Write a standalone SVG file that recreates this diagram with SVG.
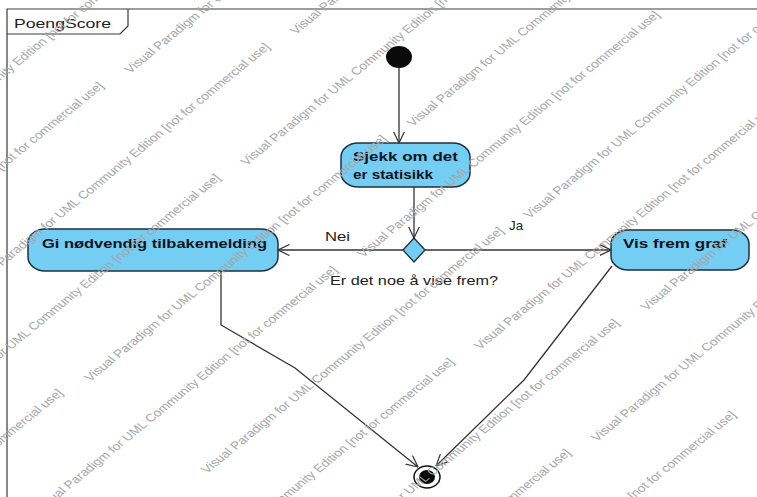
<svg xmlns="http://www.w3.org/2000/svg" width="757" height="497" viewBox="0 0 757 497">
  <style>
    .frame { fill: none; stroke: #3a3a3a; stroke-width: 1.2; }
    .action { fill: #74cdf3; stroke: #1f2f3c; stroke-width: 1.5; }
    .atext { font-family: "Liberation Sans", Arial, sans-serif; font-weight: bold; font-size: 13px; fill: #10141c; }
    .label { font-family: "Liberation Sans", Arial, sans-serif; font-size: 13px; fill: #222; }
    .flow { fill: none; stroke: #333; stroke-width: 1.3; }
    .wm { font-family: "Liberation Sans", Arial, sans-serif; font-size: 11px; fill: #a6a6a6; }
  </style>
  <defs>
    <marker id="open" viewBox="0 0 12 12" refX="11.5" refY="6" markerWidth="12" markerHeight="12" markerUnits="userSpaceOnUse" orient="auto">
      <path d="M0,0.5 L11.5,6 L0,11.5" fill="none" stroke="#333" stroke-width="1.2"/>
    </marker>
    <text id="wmText" class="wm">Visual Paradigm for UML Community Edition [not for commercial use]</text>
  </defs>
  <rect width="757" height="497" fill="#fff"/>

  <!-- activity frame with name tab -->
  <g id="frame">
    <path class="frame" d="M7,497 V9 H757"/>
    <path class="frame" d="M7,34 H120 L128,26 V9"/>
    <text class="label" x="14" y="28" font-size="14" textLength="97" lengthAdjust="spacingAndGlyphs">PoengScore</text>
  </g>

  <!-- control flows -->
  <g id="connectors">
    <line class="flow" x1="399" y1="68" x2="399" y2="143" marker-end="url(#open)"/>
    <line class="flow" x1="414" y1="187" x2="414" y2="238" marker-end="url(#open)"/>
    <line class="flow" x1="403" y1="250" x2="278" y2="250" marker-end="url(#open)"/>
    <line class="flow" x1="425" y1="250" x2="611" y2="250" marker-end="url(#open)"/>
    <polyline class="flow" points="221,271 221,325 295,368 418,467" marker-end="url(#open)"/>
    <polyline class="flow" points="612,266 524,380 436,466" marker-end="url(#open)"/>
    <text class="label" x="325" y="241" textLength="25" lengthAdjust="spacingAndGlyphs">Nei</text>
    <text class="label" x="509" y="230" textLength="14" lengthAdjust="spacingAndGlyphs">Ja</text>
  </g>

  <g id="initial">
    <ellipse cx="399" cy="57" rx="13" ry="11" fill="#0a0a0a"/>
  </g>

  <g id="sjekk">
    <rect class="action" x="341" y="143" width="129" height="44" rx="17" ry="14"/>
    <text class="atext" x="353" y="161" textLength="105" lengthAdjust="spacingAndGlyphs">Sjekk om det</text>
    <text class="atext" x="353" y="179" textLength="80" lengthAdjust="spacingAndGlyphs">er statisikk</text>
  </g>

  <g id="decision">
    <polygon points="414,238 425,250 414,262 403,250" fill="#74cdf3" stroke="#1f2f3c" stroke-width="1.3"/>
    <text class="label" x="330" y="285" textLength="168" lengthAdjust="spacingAndGlyphs">Er det noe å vise frem?</text>
  </g>

  <g id="tilbakemelding">
    <rect class="action" x="28" y="229" width="250" height="42" rx="17" ry="14"/>
    <text class="atext" x="42" y="248" textLength="225" lengthAdjust="spacingAndGlyphs">Gi nødvendig tilbakemelding</text>
  </g>

  <g id="graf">
    <rect class="action" x="611" y="230" width="138" height="40" rx="17" ry="14"/>
    <text class="atext" x="623" y="248" textLength="104" lengthAdjust="spacingAndGlyphs">Vis frem graf</text>
  </g>

  <g id="final">
    <ellipse cx="427" cy="477" rx="13" ry="11" fill="#fff" stroke="#111" stroke-width="1.5"/>
    <ellipse cx="427" cy="477" rx="8" ry="7" fill="#0a0a0a"/>
  </g>

  <!-- edition watermark: diagonal rows laid out in unstretched sheet units -->
  <g id="watermark" transform="matrix(1.27,0,0,1,0,0)">
    <use href="#wmText" transform="translate(-113,198) rotate(-46)"/>
    <use href="#wmText" transform="translate(102.5,74) rotate(-46)"/>
    <use href="#wmText" transform="translate(-152,329) rotate(-46)"/>
    <use href="#wmText" transform="translate(233,35) rotate(-46)"/>
    <use href="#wmText" transform="translate(-21,290) rotate(-46)"/>
    <use href="#wmText" transform="translate(194,166) rotate(-46)"/>
    <use href="#wmText" transform="translate(-60,421) rotate(-46)"/>
    <use href="#wmText" transform="translate(325,127) rotate(-46)"/>
    <use href="#wmText" transform="translate(71,382) rotate(-46)"/>
    <use href="#wmText" transform="translate(-184,636) rotate(-46)"/>
    <use href="#wmText" transform="translate(286,258) rotate(-46)"/>
    <use href="#wmText" transform="translate(32,513) rotate(-46)"/>
    <use href="#wmText" transform="translate(417,219) rotate(-46)"/>
    <use href="#wmText" transform="translate(163,474) rotate(-46)"/>
    <use href="#wmText" transform="translate(378,350) rotate(-46)"/>
    <use href="#wmText" transform="translate(124,605) rotate(-46)"/>
    <use href="#wmText" transform="translate(509,311) rotate(-46)"/>
    <use href="#wmText" transform="translate(254,566) rotate(-46)"/>
    <use href="#wmText" transform="translate(470,442) rotate(-46)"/>
    <use href="#wmText" transform="translate(216,696) rotate(-46)"/>
    <use href="#wmText" transform="translate(346,658) rotate(-46)"/>
  </g>
</svg>
